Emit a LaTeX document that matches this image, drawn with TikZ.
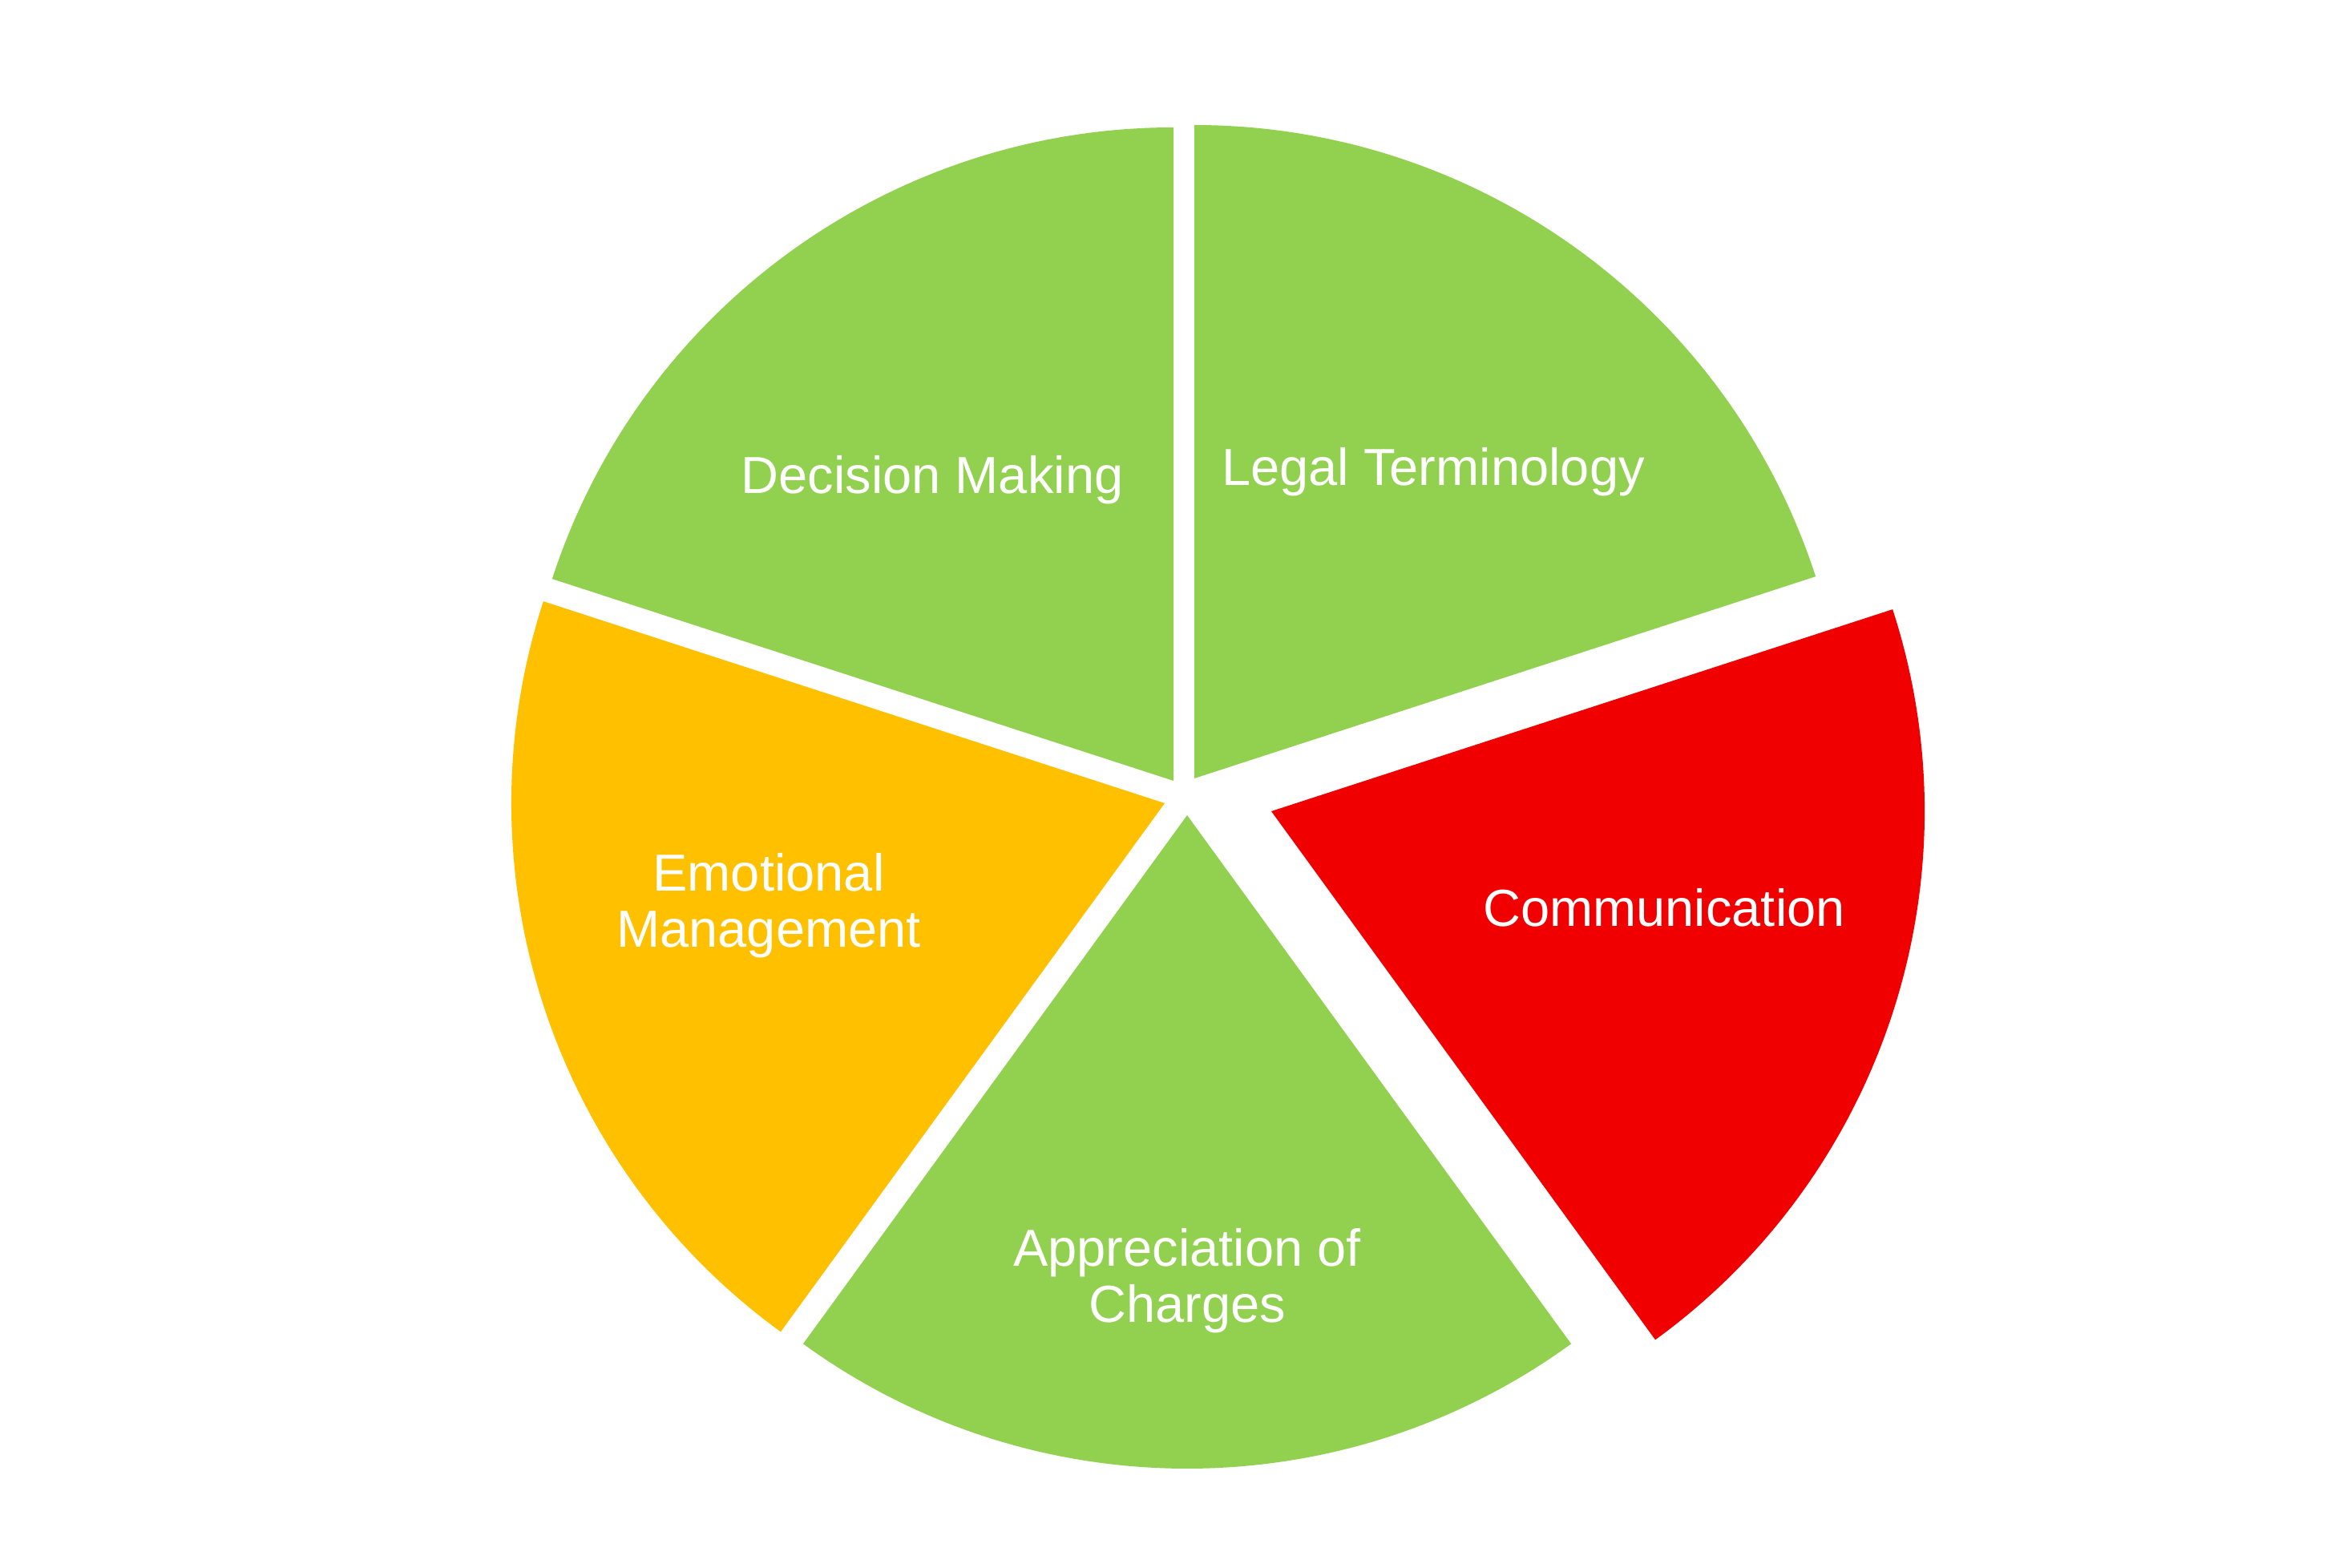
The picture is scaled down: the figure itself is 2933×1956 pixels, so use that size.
\documentclass[tikz,border=0pt]{standalone}
\usepackage{fontspec}
\setmainfont{Liberation Sans}
\definecolor{slicegreen}{RGB}{146,208,80}
\definecolor{sliceorange}{RGB}{255,192,0}
\definecolor{slicered}{RGB}{240,0,0}
\begin{document}
\begin{tikzpicture}[x=1pt,y=1pt,
  slicelabel/.style={text=white,inner sep=0pt,align=center,anchor=base,
    font=\fontsize{65}{70}\selectfont}]
\useasboundingbox (0,0) rectangle (2933,1956);
\fill[white] (0,0) rectangle (2933,1956);
% apexes
\coordinate (aLegal) at (1490,985);
\coordinate (aComm) at (1586,944);
\coordinate (aAppr) at (1481,939);
\coordinate (aEmo) at (1453,954);
\coordinate (aDec) at (1464,982);
% slices
\fill[slicegreen] (aLegal) -- ++(18:815) arc[start angle=18,end angle=90,radius=815] -- cycle;
\fill[slicered] (aComm) -- ++(-54:815) arc[start angle=-54,end angle=18,radius=815] -- cycle;
\fill[slicegreen] (aAppr) -- ++(-126:815) arc[start angle=-126,end angle=-54,radius=815] -- cycle;
\fill[sliceorange] (aEmo) -- ++(162:815) arc[start angle=162,end angle=234,radius=815] -- cycle;
\fill[slicegreen] (aDec) -- ++(90:815) arc[start angle=90,end angle=162,radius=815] -- cycle;
% labels
\node[slicelabel] (tDec) at (1163,1340) {Decision Making};
\node[slicelabel] (tLegal) at (1788,1350) {Legal Terminology};
\node[slicelabel] (tComm) at (2076,800) {Communication};
\node[slicelabel] (tEmo) at (959,774) {Emotional\\Management};
\node[slicelabel] (tAppr) at (1481,306) {Appreciation of\\Charges};
\end{tikzpicture}
\end{document}
